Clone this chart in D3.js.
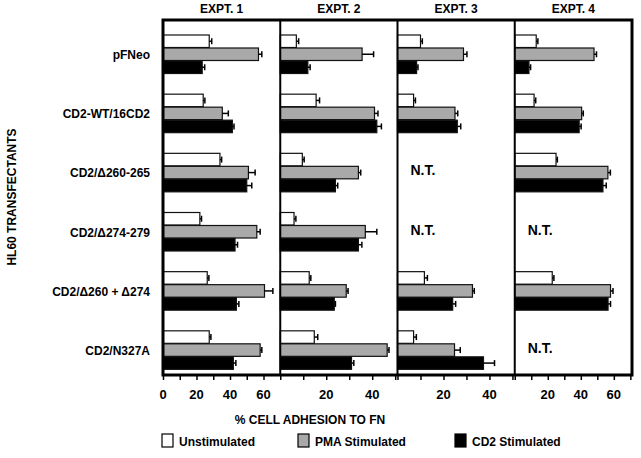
<!DOCTYPE html>
<html><head><meta charset="utf-8">
<script src="https://cdn.jsdelivr.net/npm/d3@7"></script>
<style>body{margin:0;background:#fff}text{font-family:"Liberation Sans",Arial,sans-serif;font-weight:bold}</style>
</head><body><svg id="c" width="641" height="458"></svg>
<script>
const rows = ["pFNeo", "CD2-WT/16CD2", "CD2/\u0394260-265", "CD2/\u0394274-279", "CD2/\u0394260 + \u0394274", "CD2/N327A"];
const series = ["Unstimulated", "PMA Stimulated", "CD2 Stimulated"];
const experiments = ["EXPT. 1", "EXPT. 2", "EXPT. 3", "EXPT. 4"];
const maxes = [70, 51, 51, 71];
const tickLabels = [[0, 20, 40, 60], [20, 40], [20, 40], [20, 40, 60]];

// values[expt][row] = [unstim, pma, cd2], null = not tested
const values = [
    [[27.6, 57, 23.4], [24, 35.4, 41.4], [34, 51, 50], [22, 56, 43], [26.4, 60.6, 43.8], [27.6, 58, 42]],
    [[7, 35.6, 12], [15.6, 41, 42], [9.6, 34, 24], [6, 37, 34], [12.6, 28.7, 23.5], [14.8, 46.5, 31]],
    [[10, 28.7, 8.3], [7, 25, 26], null, null, [11.7, 32.6, 24], [7, 24.8, 37.4]],
    [[13, 48, 8.6], [11.7, 40.5, 39], [25, 56.4, 53.4], null, [22.7, 58, 56.5], null]
];
const errors = [
    [[1.5, 2, 1.5], [1, 3.6, 1], [1, 4, 3], [1, 2, 1.5], [1, 5, 1.5], [1, 1, 1.5]],
    [[1, 5, 1], [1.5, 1.5, 2], [0.8, 1, 1], [0.8, 5, 1.5], [0.7, 0.8, 0.5], [1.5, 0.8, 1]],
    [[0.8, 1.5, 0.6], [0.8, 1.2, 1.5], null, null, [1.3, 0.8, 1.3], [1.2, 2.5, 4.8]],
    [[1, 1.5, 1], [1, 1, 1.2], [0.8, 1.5, 2], null, [1, 1.5, 1.5], null]
];
const fills = ["#fff", "#a9a9a9", "#000"];

const svg = d3.select("#c");
const plotTop = 20, plotBottom = 375, plotLeft = 163, plotRight = 632;
const panelW = (plotRight - plotLeft) / 4;

const y = d3.scaleBand().domain(rows).range([plotTop, plotBottom]).paddingInner(0).paddingOuter(0);
const sub = d3.scaleBand().domain(series).range([15, 54]).padding(0);

experiments.forEach(function(name, e) {
    const x0 = plotLeft + e * panelW;
    const x = d3.scaleLinear().domain([0, maxes[e]]).range([x0, x0 + panelW]);
    const g = svg.append("g");

    rows.forEach(function(r, i) {
        const v = values[e][i];
        if (!v) {
            g.append("text").attr("x", x0 + 13).attr("y", y(r) + 37)
                .attr("font-size", 14).text("N.T.");
            return;
        }
        series.forEach(function(s, k) {
            const by = y(r) + sub(s);
            const h = sub.bandwidth() - 0.5;
            g.append("rect").attr("x", x(0)).attr("y", by).attr("width", x(v[k]) - x(0)).attr("height", h)
                .attr("fill", fills[k]).attr("stroke", "#111").attr("stroke-width", 1.2);
            const ex = x(v[k] + errors[e][i][k]);
            const cy = by + h / 2;
            g.append("line").attr("x1", x(v[k])).attr("x2", ex).attr("y1", cy).attr("y2", cy).attr("stroke", "#000").attr("stroke-width", 1.5);
            g.append("line").attr("x1", ex).attr("x2", ex).attr("y1", cy - 3).attr("y2", cy + 3).attr("stroke", "#000").attr("stroke-width", 1.5);
        });
    });

    const axis = d3.axisBottom(x).tickValues(d3.range(0, maxes[e], 10)).tickSize(5).tickFormat("");
    const ag = g.append("g").attr("transform", `translate(0,${plotBottom})`).call(axis);
    ag.select(".domain").remove();
    ag.selectAll("line").attr("stroke-width", 1.5);
    tickLabels[e].forEach(function(t) {
        g.append("text").attr("x", x(t)).attr("y", plotBottom + 24).attr("text-anchor", "middle")
            .attr("font-size", 13).text(t);
    });

    g.append("text").attr("x", x0 + panelW / 2).attr("y", 13).attr("text-anchor", "middle")
        .attr("font-size", 12).text(name);
    if (e > 0) {
        svg.append("line").attr("x1", x0).attr("x2", x0).attr("y1", plotTop).attr("y2", plotBottom)
            .attr("stroke", "#000").attr("stroke-width", 2);
    }
});

svg.append("rect").attr("x", plotLeft).attr("y", plotTop).attr("width", plotRight - plotLeft).attr("height", plotBottom - plotTop)
    .attr("fill", "none").attr("stroke", "#000").attr("stroke-width", 3);

rows.forEach(function(r) {
    svg.append("text").attr("x", 150).attr("y", y(r) + 39).attr("text-anchor", "end")
        .attr("font-size", 12).text(r);
});

svg.append("text").attr("transform", "translate(16,197) rotate(-90)").attr("text-anchor", "middle")
    .attr("font-size", 12).text("HL60 TRANSFECTANTS");
svg.append("text").attr("x", 310).attr("y", 424).attr("text-anchor", "middle")
    .attr("font-size", 12).text("% CELL ADHESION TO FN");

const legendX = [162, 298, 455];
series.forEach(function(s, k) {
    svg.append("rect").attr("x", legendX[k]).attr("y", 434).attr("width", 11).attr("height", 13)
        .attr("fill", fills[k]).attr("stroke", "#000").attr("stroke-width", 1.2);
    svg.append("text").attr("x", legendX[k] + 17).attr("y", 446).attr("font-size", 12).text(s);
});
</script></body></html>
